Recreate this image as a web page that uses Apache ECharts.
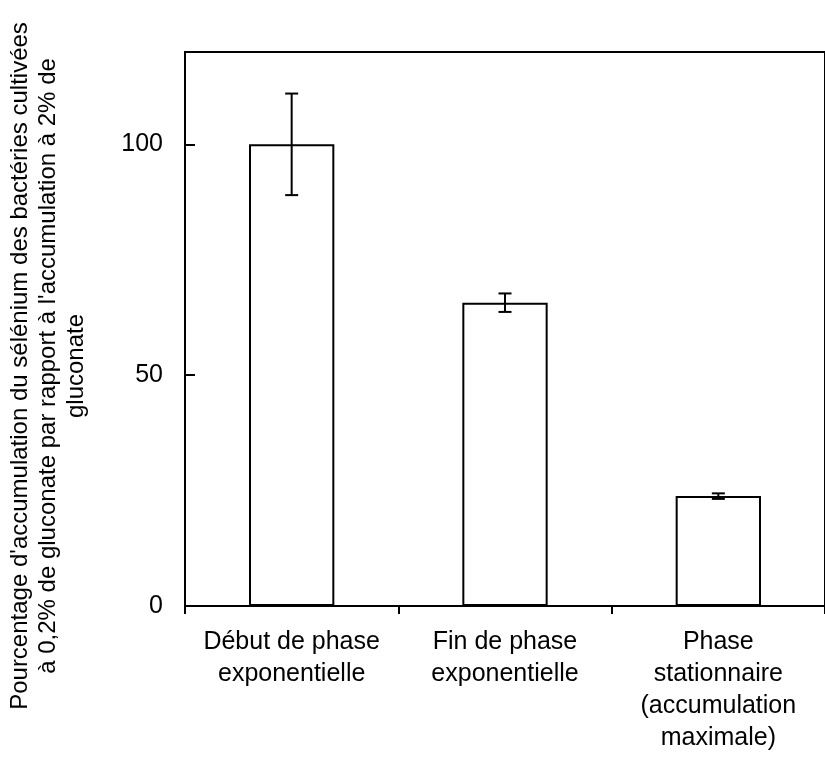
<!DOCTYPE html>
<html>
<head>
<meta charset="utf-8">
<title>Accumulation du sélénium</title>
<script src="https://cdn.jsdelivr.net/npm/echarts@6/dist/echarts.min.js"></script>
<style>
  html, body { margin: 0; padding: 0; background: #fff; }
  #chart { width: 825px; height: 772px; }
</style>
</head>
<body>
<div id="chart"></div>
<script>
// données
var categories = [
  'Début de phase\nexponentielle',
  'Fin de phase\nexponentielle',
  'Phase\nstationnaire\n(accumulation\nmaximale)'
];
var values = [100, 65.7, 23.8];
var errors = [11, 2, 0.6];
var yTicks = [0, 50, 100];
var yTitle = "Pourcentage d'accumulation du sélénium des bactéries cultivées\n" +
  "à 0,2% de gluconate par rapport à l'accumulation à 2% de\n" +
  "gluconate";

var font = 'Liberation Sans, Arial, sans-serif';
var chart = echarts.init(document.getElementById('chart'));

var errData = values.map(function (v, i) { return [i, v - errors[i], v + errors[i]]; });

chart.setOption({
  animation: false,
  grid: {
    left: 185, top: 52, width: 651, bottom: 166,
    show: true, borderColor: '#000', borderWidth: 2, backgroundColor: 'transparent'
  },
  xAxis: {
    type: 'category',
    data: categories,
    axisLine: { lineStyle: { color: '#000', width: 2 } },
    axisTick: { show: true, interval: 0, length: 8, lineStyle: { color: '#000', width: 2 } },
    axisLabel: {
      interval: 0, hideOverlap: false,
      color: '#000', fontFamily: font, fontSize: 25, lineHeight: 32, margin: 20
    }
  },
  yAxis: {
    type: 'value',
    min: 0, max: 120, interval: 50,
    splitLine: { show: false },
    axisLine: { show: true, lineStyle: { color: '#000', width: 2 } },
    axisTick: { show: true, inside: true, length: 10, lineStyle: { color: '#000', width: 2 } },
    axisLabel: {
      color: '#000', fontFamily: font, fontSize: 25, margin: 22,
      showMaxLabel: false,
      formatter: function (v) { return yTicks.indexOf(v) >= 0 ? String(v) : ''; }
    }
  },
  graphic: [{
    type: 'text',
    x: 48, y: 366,
    rotation: Math.PI / 2,
    style: {
      text: yTitle,
      font: '24px ' + font,
      fill: '#000',
      align: 'center',
      verticalAlign: 'middle',
      lineHeight: 28
    }
  }],
  series: [{
    type: 'bar',
    data: values,
    barWidth: '40%',
    itemStyle: { color: '#fff', borderColor: '#000', borderWidth: 2 }
  }, {
    type: 'custom',
    data: errData,
    z: 5,
    renderItem: function (params, api) {
      var x = api.value(0);
      var lo = api.coord([x, api.value(1)]);
      var hi = api.coord([x, api.value(2)]);
      var hw = 6.5;
      var st = { stroke: '#000', lineWidth: 2 };
      return {
        type: 'group',
        children: [
          { type: 'line', shape: { x1: hi[0], y1: hi[1], x2: lo[0], y2: lo[1] }, style: st },
          { type: 'line', shape: { x1: hi[0] - hw, y1: hi[1], x2: hi[0] + hw, y2: hi[1] }, style: st },
          { type: 'line', shape: { x1: lo[0] - hw, y1: lo[1], x2: lo[0] + hw, y2: lo[1] }, style: st }
        ]
      };
    }
  }]
});
</script>
</body>
</html>
